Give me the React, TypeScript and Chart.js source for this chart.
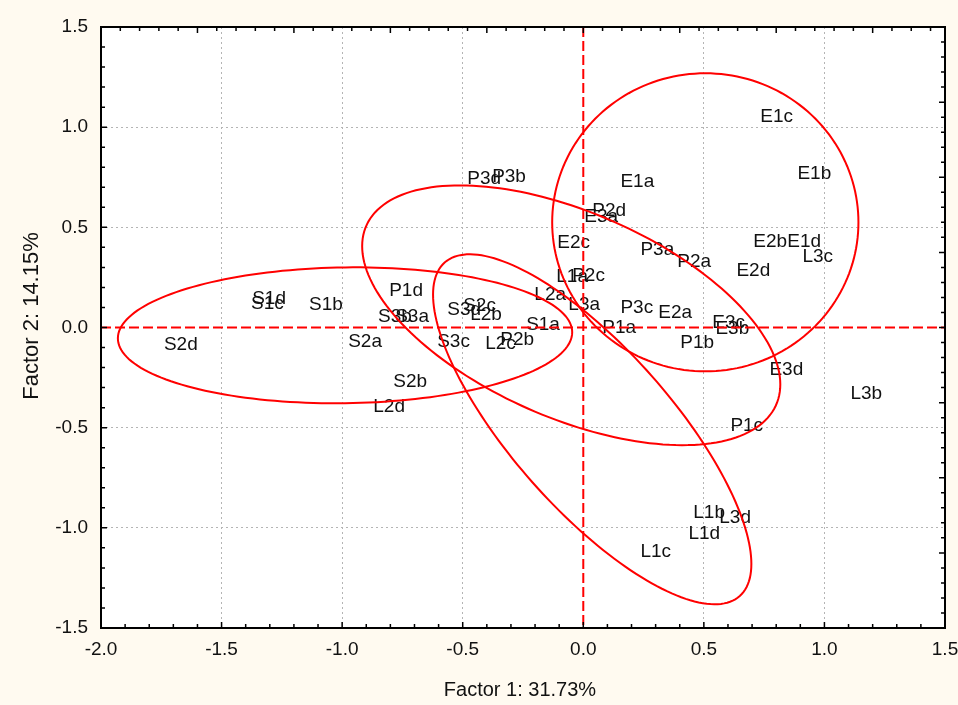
import { useEffect, useRef } from "react";
import { Chart, registerables } from "chart.js";

Chart.register(...registerables);

// Sample scores on the first two factors
const sampleLabels = [
  "S1a", "S1b", "S1c", "S1d", "S2a", "S2b", "S2c", "S2d", "S3a", "S3b", "S3c", "S3d",
  "P1a", "P1b", "P1c", "P1d", "P2a", "P2b", "P2c", "P2d", "P3a", "P3b", "P3c", "P3d",
  "E1a", "E1b", "E1c", "E1d", "E2a", "E2b", "E2c", "E2d", "E3a", "E3b", "E3c", "E3d",
  "L1a", "L1b", "L1c", "L1d", "L2a", "L2b", "L2c", "L2d", "L3a", "L3b", "L3c", "L3d",
];

const factor1Scores = [
  -0.237, -1.137, -1.378, -1.373, -0.975, -0.788, -0.498, -1.739, -0.78, -0.851, -0.606, -0.564,
  0.079, 0.402, 0.61, -0.805, 0.39, -0.344, -0.046, 0.037, 0.237, -0.378, 0.154, -0.481,
  0.154, 0.888, 0.734, 0.846, 0.311, 0.705, -0.108, 0.635, 0.004, 0.548, 0.535, 0.772,
  -0.112, 0.456, 0.237, 0.436, -0.203, -0.469, -0.407, -0.871, -0.062, 1.108, 0.909, 0.564,
];

const factor2Scores = [
  0.016, 0.111, 0.116, 0.141, -0.069, -0.269, 0.106, -0.084, 0.056, 0.056, -0.069, 0.091,
  0.001, -0.074, -0.493, 0.181, 0.326, -0.059, 0.256, 0.585, 0.39, 0.75, 0.101, 0.74,
  0.725, 0.765, 1.054, 0.43, 0.076, 0.43, 0.425, 0.281, 0.555, -0.004, 0.026, -0.209,
  0.251, -0.923, -1.117, -1.032, 0.161, 0.066, -0.079, -0.398, 0.111, -0.329, 0.355, -0.948,
];

// Group ellipses: centre and two conjugate semi-diameters, in factor units
const groupNames = ["S", "P", "E", "L"];
const ellipseCenterX = [-0.988, -0.05, 0.506, 0.037];
const ellipseCenterY = [-0.039, 0.061, 0.525, -0.508];
const ellipseAxisU = [
  [0.942, 0.015],
  [0.867, -0.345],
  [0.635, 0],
  [0.66, -0.672],
];
const ellipseAxisV = [
  [0, 0.339],
  [0, 0.549],
  [0, 0.744],
  [0, 0.558],
];

const xMin = -2.0;
const xMax = 1.5;
const yMin = -1.5;
const yMax = 1.5;
const majorStep = 0.5;
const minorStep = 0.1;
const topMinorStep = 0.08;
const rightMinorStep = 0.075;

const xTitle = "Factor 1: 31.73%";
const yTitle = "Factor 2: 14.15%";

const FONT = '"Liberation Sans", Arial, sans-serif';
const PAGE_BG = "#fffaf0";

const plotDecor = {
  id: "plotDecor",
  beforeDraw(chart: any) {
    const { ctx, chartArea } = chart;
    ctx.save();
    ctx.fillStyle = PAGE_BG;
    ctx.fillRect(0, 0, chart.width, chart.height);
    ctx.fillStyle = "#ffffff";
    ctx.fillRect(chartArea.left, chartArea.top, chartArea.right - chartArea.left, chartArea.bottom - chartArea.top);
    ctx.restore();
  },
  afterDatasetsDraw(chart: any) {
    const { ctx, chartArea } = chart;
    const xs = chart.scales.x;
    const ys = chart.scales.y;

    // sample labels
    const meta = chart.getDatasetMeta(0);
    ctx.save();
    ctx.font = `19px ${FONT}`;
    ctx.fillStyle = "#111111";
    ctx.textAlign = "left";
    ctx.textBaseline = "middle";
    meta.data.forEach((el: any, i: number) => {
      ctx.fillText(sampleLabels[i], el.x, el.y);
    });
    ctx.restore();

    // zero reference lines
    ctx.save();
    ctx.beginPath();
    ctx.rect(chartArea.left, chartArea.top, chartArea.right - chartArea.left, chartArea.bottom - chartArea.top);
    ctx.clip();
    ctx.strokeStyle = "#ff0000";
    ctx.lineWidth = 2;
    ctx.setLineDash([10, 4]);
    const x0 = xs.getPixelForValue(0);
    const y0 = ys.getPixelForValue(0);
    ctx.beginPath();
    ctx.moveTo(x0, chartArea.top);
    ctx.lineTo(x0, chartArea.bottom);
    ctx.moveTo(chartArea.left, y0);
    ctx.lineTo(chartArea.right, y0);
    ctx.stroke();
    ctx.setLineDash([]);

    // group ellipses
    ctx.lineWidth = 2;
    groupNames.forEach((_, g) => {
      const cx = ellipseCenterX[g];
      const cy = ellipseCenterY[g];
      const [ux, uy] = ellipseAxisU[g];
      const [vx, vy] = ellipseAxisV[g];
      ctx.beginPath();
      const n = 180;
      for (let k = 0; k <= n; k++) {
        const t = (k / n) * Math.PI * 2;
        const px = xs.getPixelForValue(cx + ux * Math.cos(t) + vx * Math.sin(t));
        const py = ys.getPixelForValue(cy + uy * Math.cos(t) + vy * Math.sin(t));
        if (k === 0) ctx.moveTo(px, py);
        else ctx.lineTo(px, py);
      }
      ctx.closePath();
      ctx.stroke();
    });
    ctx.restore();
  },
  afterDraw(chart: any) {
    const { ctx, chartArea } = chart;
    const xs = chart.scales.x;
    const ys = chart.scales.y;
    const { left, right, top, bottom } = chartArea;
    ctx.save();
    ctx.strokeStyle = "#000000";

    // inward tick marks on all four sides
    ctx.lineWidth = 1.5;
    ctx.beginPath();
    const eps = 1e-6;
    for (let v = xMin + minorStep; v < xMax - eps; v += minorStep) {
      const p = xs.getPixelForValue(v);
      const major = Math.abs(v / majorStep - Math.round(v / majorStep)) < 1e-4;
      ctx.moveTo(p, bottom);
      ctx.lineTo(p, bottom - (major ? 6 : 4));
    }
    for (let v = yMin + minorStep; v < yMax - eps; v += minorStep) {
      const p = ys.getPixelForValue(v);
      const major = Math.abs(v / majorStep - Math.round(v / majorStep)) < 1e-4;
      ctx.moveTo(left, p);
      ctx.lineTo(left + (major ? 6 : 4), p);
    }
    let k = 1;
    for (let v = xMin + topMinorStep; v < xMax - eps; v += topMinorStep, k++) {
      const p = xs.getPixelForValue(v);
      ctx.moveTo(p, top);
      ctx.lineTo(p, top + (k % 5 === 0 ? 6 : 4));
    }
    k = 1;
    for (let v = yMax - rightMinorStep; v > yMin + eps; v -= rightMinorStep, k++) {
      const p = ys.getPixelForValue(v);
      ctx.moveTo(right, p);
      ctx.lineTo(right - (k % 5 === 0 ? 6 : 4), p);
    }
    ctx.stroke();

    // frame
    ctx.lineWidth = 2;
    ctx.strokeRect(left, top, right - left, bottom - top);

    // axis titles
    ctx.fillStyle = "#111111";
    ctx.textAlign = "center";
    ctx.textBaseline = "middle";
    ctx.font = `20px ${FONT}`;
    ctx.fillText(xTitle, (left + right) / 2 - 3, 690);
    ctx.font = `22px ${FONT}`;
    ctx.translate(32, 316);
    ctx.rotate(-Math.PI / 2);
    ctx.fillText(yTitle, 0, 0);
    ctx.restore();
  },
};

function gridColor(ctx: any) {
  const v = ctx.tick ? ctx.tick.value : NaN;
  if (Math.abs(v) < 1e-9) return "rgba(0,0,0,0)";
  return "#b4b4b4";
}

export default function App() {
  const canvasRef = useRef<HTMLCanvasElement | null>(null);

  useEffect(() => {
    if (!canvasRef.current) return;
    const points = factor1Scores.map((x, i) => ({ x, y: factor2Scores[i] }));
    const chart = new Chart(canvasRef.current, {
      type: "scatter",
      data: {
        datasets: [
          {
            label: "samples",
            data: points,
            pointRadius: 0,
            pointHoverRadius: 0,
            showLine: false,
          },
        ],
      },
      options: {
        animation: false,
        responsive: false,
        devicePixelRatio: 1,
        events: [],
        layout: { padding: { left: 0, top: 27, right: 13, bottom: 0 } },
        plugins: {
          legend: { display: false },
          tooltip: { enabled: false },
          title: { display: false },
        },
        scales: {
          x: {
            type: "linear",
            min: xMin,
            max: xMax,
            border: { display: false, dash: [2, 3] },
            grid: {
              color: gridColor,
              lineWidth: 1,
              drawTicks: false,
            },
            ticks: {
              stepSize: majorStep,
              autoSkip: false,
              maxRotation: 0,
              padding: 10,
              color: "#111111",
              font: { family: FONT, size: 19 },
              callback: (v: any) => Number(v).toFixed(1),
            },
            afterFit: (scale: any) => {
              scale.height = 77;
              scale.paddingLeft = 0;
              scale.paddingRight = 0;
            },
          },
          y: {
            type: "linear",
            min: yMin,
            max: yMax,
            border: { display: false, dash: [2, 3] },
            grid: {
              color: gridColor,
              lineWidth: 1,
              drawTicks: false,
            },
            ticks: {
              stepSize: majorStep,
              autoSkip: false,
              padding: 13,
              color: "#111111",
              font: { family: FONT, size: 19 },
              callback: (v: any) => Number(v).toFixed(1),
            },
            afterFit: (scale: any) => {
              scale.width = 101;
              scale.paddingTop = 0;
              scale.paddingBottom = 0;
            },
          },
        },
      },
      plugins: [plotDecor],
    });

    return () => chart.destroy();
  }, []);

  return (
    <div
      style={{
        position: "fixed",
        left: 0,
        top: 0,
        width: 958,
        height: 705,
        background: PAGE_BG,
      }}
    >
      <canvas ref={canvasRef} width={958} height={705} style={{ display: "block" }} />
    </div>
  );
}
